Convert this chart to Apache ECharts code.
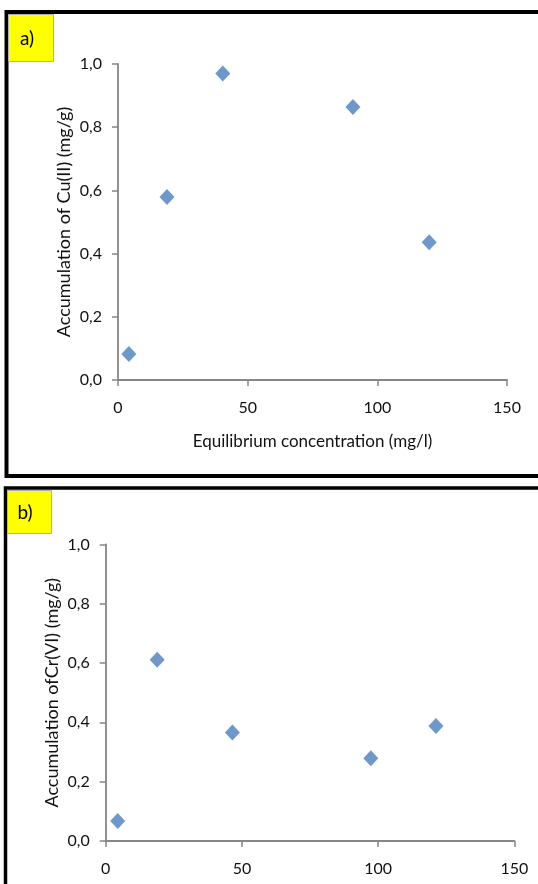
<!DOCTYPE html>
<html>
<head>
<meta charset="utf-8">
<script src="https://cdn.jsdelivr.net/npm/echarts@6/dist/echarts.min.js"></script>
<style>
  html, body { margin: 0; padding: 0; background: #fff; }
  #chart { width: 538px; height: 884px; }
</style>
</head>
<body>
<div id="chart"></div>
<script>
// panel a) Cu(II)
var cuConc  = [4.2, 18.9, 40.4, 90.6, 120.0];
var cuAccum = [0.082, 0.579, 0.970, 0.864, 0.436];
// panel b) Cr(VI)
var crConc  = [4.4, 18.9, 46.5, 97.3, 121.2];
var crAccum = [0.067, 0.611, 0.366, 0.279, 0.388];

var xMin = 0, xMax = 150, xStep = 50;
var yMin = 0, yMax = 1, yStep = 0.2;

var font = 'Lato';
var textCol = '#111';
var axisGrey = '#868686';
var markBlue = '#4A7EBB';

function pairs(xs, ys) {
  return xs.map(function (x, i) { return [x, ys[i]]; });
}
function comma(v) {
  return v.toFixed(1).replace('.', ',');
}

function xAxisFor(grid, name) {
  return {
    type: 'value', gridIndex: grid,
    min: xMin, max: xMax, interval: xStep,
    name: name, nameLocation: 'middle', nameGap: 53, nameMoveOverlap: false,
    nameTextStyle: { fontFamily: font, fontSize: 17, color: textCol },
    axisLine: { show: true, lineStyle: { color: axisGrey, width: 1.8 } },
    axisTick: { show: true, length: 6, lineStyle: { color: axisGrey, width: 1.5 } },
    axisLabel: { margin: 20, fontFamily: font, fontSize: 16, color: textCol },
    splitLine: { show: false }
  };
}
function yAxisFor(grid, name) {
  return {
    type: 'value', gridIndex: grid,
    min: yMin, max: yMax, interval: yStep,
    name: name, nameLocation: 'middle', nameGap: 45, nameMoveOverlap: false,
    nameTextStyle: { fontFamily: font, fontSize: 18, color: textCol },
    axisLine: { show: true, lineStyle: { color: axisGrey, width: 1.8 } },
    axisTick: { show: true, length: 6, lineStyle: { color: axisGrey, width: 1.5 } },
    axisLabel: { margin: 16, fontFamily: font, fontSize: 16, color: textCol, formatter: comma },
    splitLine: { show: false }
  };
}

var myChart = echarts.init(document.getElementById('chart'));
var options = {
  backgroundColor: '#fff',
  animation: false,
  grid: [
    { left: 118, top: 64, width: 389, height: 316 },
    { left: 105.7, top: 544.5, width: 408.7, height: 296.4 }
  ],
  xAxis: [
    xAxisFor(0, 'Equilibrium concentration (mg/l)'),
    xAxisFor(1, '')
  ],
  yAxis: [
    yAxisFor(0, 'Accumulation of Cu(II) (mg/g)'),
    yAxisFor(1, 'Accumulation ofCr(VI) (mg/g)')
  ],
  series: [
    {
      type: 'scatter', xAxisIndex: 0, yAxisIndex: 0,
      symbol: 'diamond', symbolSize: [15, 16],
      itemStyle: { color: markBlue },
      data: pairs(cuConc, cuAccum)
    },
    {
      type: 'scatter', xAxisIndex: 1, yAxisIndex: 1,
      symbol: 'diamond', symbolSize: [15, 16],
      itemStyle: { color: markBlue },
      data: pairs(crConc, crAccum)
    }
  ],
  graphic: [
    // panel frames (run off the right edge like the original)
    { type: 'rect', z: 1, shape: { x: 6.5, y: 12, width: 620, height: 464 },
      style: { fill: null, stroke: '#000', lineWidth: 4 } },
    { type: 'rect', z: 1, shape: { x: 5.5, y: 488, width: 620, height: 500 },
      style: { fill: null, stroke: '#000', lineWidth: 3.5 } },
    // yellow panel tags
    { type: 'rect', z: 2, shape: { x: 8.5, y: 14.5, width: 45, height: 47 },
      style: { fill: '#FFFF00', stroke: '#b0b0b0', lineWidth: 1 } },
    { type: 'text', z: 3,
      style: { x: 20, y: 38.5, text: 'a)', verticalAlign: 'middle',
               fontFamily: font, fontSize: 19, fill: '#000' } },
    { type: 'rect', z: 2, shape: { x: 7.5, y: 490.5, width: 44, height: 43 },
      style: { fill: '#FFFF00', stroke: '#b0b0b0', lineWidth: 1 } },
    { type: 'text', z: 3,
      style: { x: 17.5, y: 513, text: 'b)', verticalAlign: 'middle',
               fontFamily: font, fontSize: 19, fill: '#000' } }
  ]
};

// 绘制图表
myChart.setOption(options);
</script>
</body>
</html>
